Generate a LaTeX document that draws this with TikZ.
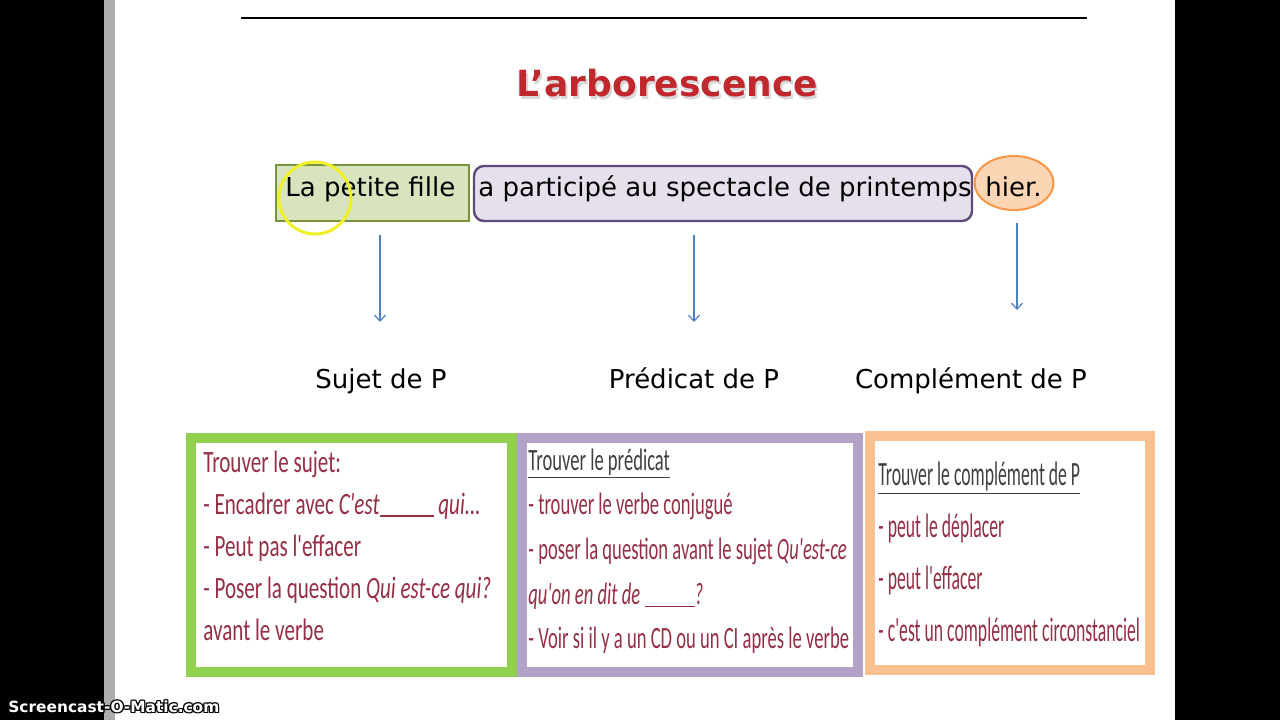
\documentclass[tikz,border=0pt]{standalone}
\usepackage{fontspec}
\setmainfont{DejaVu Sans}
\newfontfamily\fonteA{Carlito}[FakeStretch=0.68]
\newfontfamily\fonteB{Carlito}[FakeStretch=0.60]
\newfontfamily\fonteC{Carlito}[FakeStretch=0.52]
\usetikzlibrary{arrows.meta,shadows,shapes.geometric}
\definecolor{vertclair}{HTML}{D7E4BD}
\definecolor{vertfonce}{HTML}{77933C}
\definecolor{mauveclair}{HTML}{E5E0EC}
\definecolor{mauvefonce}{HTML}{5F497A}
\definecolor{orangeclair}{HTML}{FCD5B5}
\definecolor{orangefonce}{HTML}{F79646}
\definecolor{vertcadre}{HTML}{92D050}
\definecolor{mauvecadre}{HTML}{B3A2C7}
\definecolor{orangecadre}{HTML}{FAC090}
\definecolor{rougetexte}{HTML}{952F44}
\definecolor{rougetitre}{HTML}{C0282D}
\definecolor{bleufleche}{HTML}{4F81BD}
\definecolor{grisligne}{HTML}{404040}
\newcommand{\blanc}[1]{\rule[-1.5pt]{#1}{0.8pt}}

\begin{document}
\begin{tikzpicture}[x=0.5pt,y=-0.5pt,
    phrase/.style = {anchor=base west, inner sep=0, font=\fontsize{13}{15}\selectfont},
    etiquette/.style = {anchor=base, inner sep=0, font=\fontsize{13}{15}\selectfont},
    fleche/.style = {draw=bleufleche, line width=0.6pt, -{Straight Barb[length=3pt,width=5.5pt]}},
    cadre/.style = {draw, fill=white, line width=5pt, inner sep=0, minimum height=117pt,
        drop shadow={shadow xshift=1.5pt, shadow yshift=-1.5pt, opacity=.3}},
    ligne/.style = {anchor=base west, inner sep=0, text=rougetexte},
    titreligne/.style = {anchor=base west, inner sep=0, text=grisligne}]
    % ecran
    \fill[black] (0,0) rectangle (1280,720);
    \fill[white] (115,0) rectangle (1175,720);
    \fill[gray!65] (104,0) rectangle (115,720);
    \useasboundingbox (0,0) rectangle (1280,720);
    \draw[line width=0.75pt] (241,18) -- (1087,18);
    % titre
    \node[text=gray!60, opacity=.5, font=\bfseries\fontsize{18}{20}\selectfont] (ombre) at (669,86) {L’arborescence};
    \node[text=rougetitre, font=\bfseries\fontsize{18}{20}\selectfont] (titre) at (667,83) {L’arborescence};
    % phrase
    \node[draw=vertfonce, fill=vertclair, line width=1pt, minimum width=96.5pt, minimum height=28pt] (sujet) at (372.5,193) {};
    \node[draw=mauvefonce, fill=mauveclair, line width=1.2pt, rounded corners=5pt, minimum width=249pt, minimum height=27.5pt] (predicat) at (723,193.5) {};
    \node[ellipse, draw=orangefonce, fill=orangeclair, line width=1pt, minimum width=39.5pt, minimum height=27pt, inner sep=0] (complement) at (1014,183) {};
    \node[phrase] (t1) at (285,196) {La petite fille};
    \node[phrase] (t2) at (478,196) {a participé au spectacle de printemps};
    \node[phrase] (t3) at (985,196) {hier.};
    \node[circle, draw={rgb,255:red,240;green,240;blue,40}, line width=1.5pt, minimum size=36pt] (curseur) at (315,198) {};
    % fleches
    \coordinate (a1) at (380,235); \coordinate (b1) at (380,322);
    \coordinate (a2) at (694,235); \coordinate (b2) at (694,322);
    \coordinate (a3) at (1017,223); \coordinate (b3) at (1017,310);
    \draw[fleche] (a1) -- (b1);
    \draw[fleche] (a2) -- (b2);
    \draw[fleche] (a3) -- (b3);
    \node[etiquette] (l1) at (381,388) {Sujet de P};
    \node[etiquette] (l2) at (694,388) {Prédicat de P};
    \node[etiquette] (l3) at (971,388) {Complément de P};
    % cadres
    \node[cadre, draw=vertcadre, minimum width=160.5pt] (csujet) at (351.5,555) {};
    \node[cadre, draw=mauvecadre, minimum width=168pt] (cpredicat) at (690,555) {};
    \node[cadre, draw=orangecadre, minimum width=140pt] (ccomplement) at (1010,553) {};
    \foreach \t [count=\i] in {{Trouver le sujet:},
        {- Encadrer avec \textit{C'est}\blanc{27pt} \textit{qui...}},
        {- Peut pas l'effacer},
        {- Poser la question \textit{Qui est-ce qui?}},
        {avant le verbe}}
        \node[ligne, font=\fonteA\fontsize{15.5}{18}\selectfont] (s\i) at (203,430+42*\i) {\t};
    \node[titreligne, font=\fonteB\fontsize{15.5}{18}\selectfont] (p1) at (528,470) {\underline{Trouver le prédicat}};
    \foreach \t [count=\i] in {{- trouver le verbe conjugué},
        {- poser la question avant le sujet \textit{Qu'est-ce}},
        {\textit{qu'on en dit de} \blanc{25pt}\textit{?}},
        {- Voir si il y a un CD ou un CI après le verbe}}
        \node[ligne, font=\fonteB\fontsize{15.5}{18}\selectfont] (p\i) at (528,470+44.7*\i) {\t};
    \node[titreligne, font=\fonteC\fontsize{17}{20}\selectfont] (c0) at (878,485) {\underline{Trouver le complément de P}};
    \foreach \t [count=\i] in {{- peut le déplacer},
        {- peut l'effacer},
        {- c'est un complément circonstanciel}}
        \node[ligne, font=\fonteC\fontsize{17}{20}\selectfont] (c\i) at (878,485+52*\i) {\t};
    % filigrane
    \foreach \dx/\dy [count=\k] in {-1/0,1/0,0/-1,0/1,-1/-1,1/1,-1/1,1/-1}
        \node[anchor=base west, inner sep=0, text=black, font=\bfseries\fontsize{7.7}{9}\selectfont] (o\k) at (8+\dx,712+\dy) {Screencast-O-Matic.com};
    \node[anchor=base west, inner sep=0, text=white, font=\bfseries\fontsize{7.7}{9}\selectfont] (filigrane) at (8,712) {Screencast-O-Matic.com};
\end{tikzpicture}
\end{document}
